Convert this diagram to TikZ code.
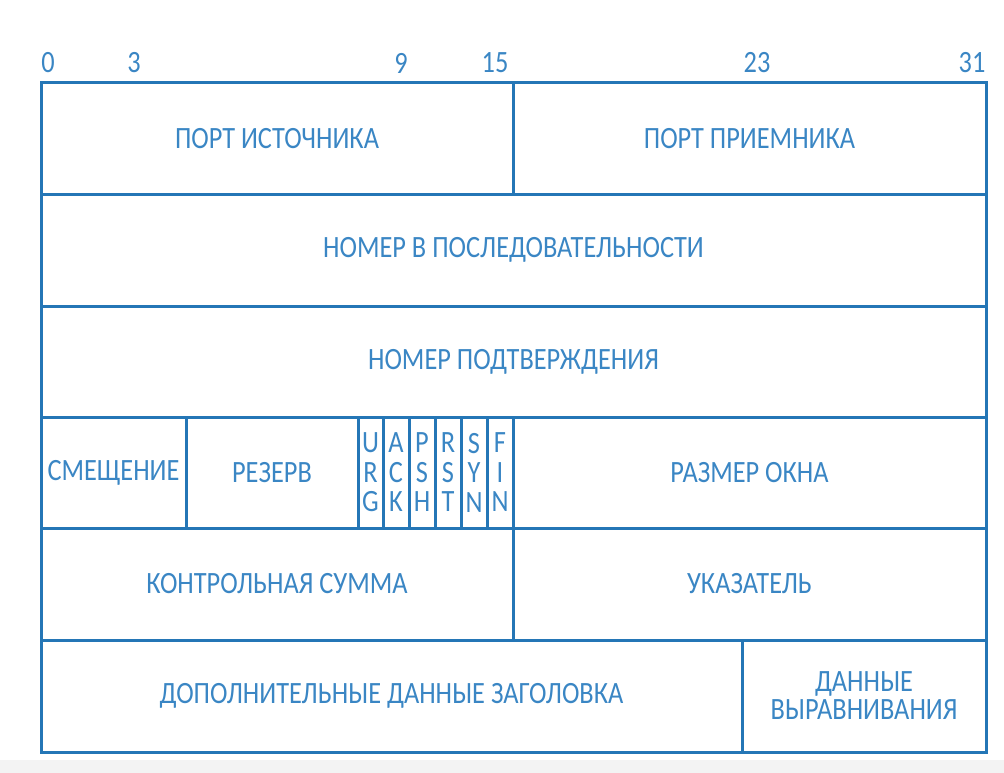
\documentclass[tikz,border=0pt]{standalone}
\usepackage{fontspec}
\setmainfont{Carlito}[FakeStretch=0.85]
\definecolor{lineblue}{RGB}{36,118,182}
\definecolor{textblue}{RGB}{58,134,196}
\definecolor{bandgray}{RGB}{243,243,243}
\begin{document}
\begin{tikzpicture}[x=1pt,y=-1pt,
  cell/.style={draw=lineblue, line width=3pt, rectangle, inner sep=0pt, outer sep=0pt,
    anchor=north west, text=textblue, font=\fontsize{31}{29}\selectfont, align=center},
  flag/.style={cell, font=\fontsize{31}{29.5}\selectfont, align=center},
  num/.style={text=textblue, font=\fontsize{31}{29}\selectfont, inner sep=0pt}]
\useasboundingbox (0,0) rectangle (1004,773);
\fill[bandgray] (0,760) rectangle (1004,773);
% numbers
\node[num] (n0) at (48,63) {0};
\node[num] (n3) at (134,63) {3};
\node[num] (n9) at (401,63) {9};
\node[num] (n15) at (495,63) {15};
\node[num] (n23) at (757,63) {23};
\node[num] (n31) at (972,63) {31};
% row 1
\node[cell, minimum width=472pt, minimum height=111pt] (srcport) at (41,83) {ПОРТ ИСТОЧНИКА};
\node[cell, minimum width=473pt, minimum height=111pt] (dstport) at (513,83) {ПОРТ ПРИЕМНИКА};
% row 2
\node[cell, minimum width=945pt, minimum height=112pt] (seq) at (41,194) {НОМЕР В ПОСЛЕДОВАТЕЛЬНОСТИ};
% row 3
\node[cell, minimum width=945pt, minimum height=111pt] (ack) at (41,306) {НОМЕР ПОДТВЕРЖДЕНИЯ};
% row 4
\node[cell, minimum width=145pt, minimum height=111pt] (offset) at (41,417) {СМЕЩЕНИЕ};
\node[cell, minimum width=172pt, minimum height=111pt] (reserve) at (186,417) {РЕЗЕРВ};
\node[flag, minimum width=25pt, minimum height=111pt] (urg) at (358,417) {U\\R\\G};
\node[flag, minimum width=26pt, minimum height=111pt] (ackf) at (383,417) {A\\C\\K};
\node[flag, minimum width=26pt, minimum height=111pt] (psh) at (409,417) {Р\\S\\H};
\node[flag, minimum width=26pt, minimum height=111pt] (rst) at (435,417) {R\\S\\T};
\node[flag, minimum width=26pt, minimum height=111pt] (syn) at (461,417) {S\\Y\\N};
\node[flag, minimum width=26pt, minimum height=111pt] (fin) at (487,417) {F\\I\\N};
\node[cell, minimum width=473pt, minimum height=111pt] (window) at (513,417) {РАЗМЕР ОКНА};
% row 5
\node[cell, minimum width=472pt, minimum height=112pt] (checksum) at (41,528) {КОНТРОЛЬНАЯ СУММА};
\node[cell, minimum width=473pt, minimum height=112pt] (urgptr) at (513,528) {УКАЗАТЕЛЬ};
% row 6
\node[cell, minimum width=701pt, minimum height=112pt] (options) at (41,640) {ДОПОЛНИТЕЛЬНЫЕ ДАННЫЕ ЗАГОЛОВКА};
\node[cell, minimum width=244pt, minimum height=112pt, font=\fontsize{31}{28}\selectfont] (padding) at (742,640) {ДАННЫЕ\\ВЫРАВНИВАНИЯ};
\end{tikzpicture}
\end{document}
